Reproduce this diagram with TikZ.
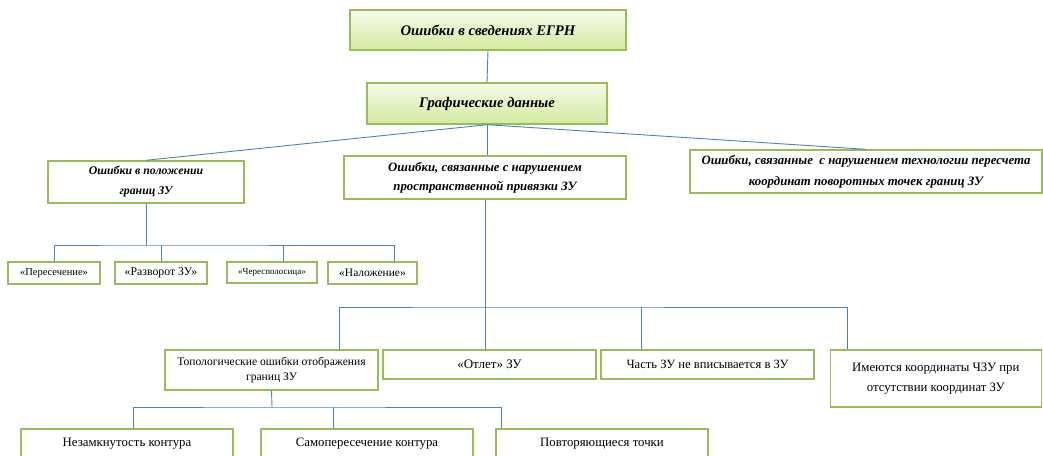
\documentclass[tikz,border=0pt]{standalone}
\usepackage{fontspec}
\setmainfont{Liberation Serif}
\usetikzlibrary{shadows}
\definecolor{boxgreen}{RGB}{155,187,89}
\definecolor{linkblue}{RGB}{79,129,189}
\definecolor{filltop}{RGB}{246,251,232}
\definecolor{fillbot}{RGB}{210,234,160}

\begin{document}
\begin{tikzpicture}[x=1pt,y=-1pt,
  box/.style={draw=boxgreen,line width=1.4pt,fill=white,inner sep=0pt,align=center},
  headbox/.style={box,top color=filltop,bottom color=fillbot,
    drop shadow={shadow xshift=1.2pt,shadow yshift=-1.2pt,opacity=0.25}},
  link/.style={draw=linkblue,line width=0.9pt}]
\clip(0,0) rectangle (1043,455);
% top levels
\node[headbox,minimum width=276pt,minimum height=40pt,font=\fontsize{14.7}{17}\selectfont\bfseries\itshape] (top) at (488,30) {Ошибки в сведениях ЕГРН};
\node[headbox,minimum width=240pt,minimum height=41pt,font=\fontsize{14.7}{17}\selectfont\bfseries\itshape] (graf) at (487,103.5) {Графические данные};
% second level
\node[box,minimum width=196pt,minimum height=42pt,font=\fontsize{11.8}{20}\selectfont\bfseries\itshape] (pol) at (146,182) {Ошибки в положении\\границ ЗУ};
\node[box,minimum width=282pt,minimum height=43pt,font=\fontsize{12.8}{19}\selectfont\bfseries\itshape] (prost) at (485,177.5) {Ошибки, связанные с нарушением\\пространственной привязки ЗУ};
\node[box,minimum width=352pt,minimum height=43pt,font=\fontsize{12.8}{21}\selectfont\bfseries\itshape] (tech) at (866,171.5) {Ошибки, связанные\ \ с нарушением технологии пересчета\\координат поворотных точек границ ЗУ};
% kinds of position errors
\node[box,minimum width=92pt,minimum height=22pt,font=\fontsize{10.5}{12}\selectfont] (per) at (54,273) {«Пересечение»};
\node[box,minimum width=92pt,minimum height=22pt,font=\fontsize{11.8}{13}\selectfont] (razv) at (161,273) {«Разворот ЗУ»};
\node[box,minimum width=90pt,minimum height=21pt,font=\fontsize{9}{10}\selectfont] (cher) at (272,272.5) {«Чересполосица»};
\node[box,minimum width=89pt,minimum height=22pt,font=\fontsize{11.5}{13}\selectfont] (nal) at (372.5,273) {«Наложение»};
% kinds of binding errors
\node[box,minimum width=213pt,minimum height=40pt,font=\fontsize{11.6}{15}\selectfont] (topo) at (271.5,370) {Топологические ошибки отображения\\границ ЗУ};
\node[box,minimum width=213pt,minimum height=29pt,font=\fontsize{13}{14}\selectfont] (otlet) at (489.5,364.5) {«Отлет» ЗУ};
\node[box,minimum width=213pt,minimum height=29pt,font=\fontsize{12.6}{14}\selectfont] (chast) at (707.5,364.5) {Часть ЗУ не вписывается в ЗУ};
\node[box,minimum width=211pt,minimum height=57pt,font=\fontsize{12.8}{20}\selectfont] (imeut) at (935.8,378.5) {Имеются координаты ЧЗУ при\\отсутствии координат ЗУ};
% topology errors
\node[box,minimum width=212pt,minimum height=29pt,font=\fontsize{12.8}{14}\selectfont] (nezam) at (127,443.5) {Незамкнутость контура};
\node[box,minimum width=212pt,minimum height=29pt,font=\fontsize{12.8}{14}\selectfont] (samo) at (367,443.5) {Самопересечение контура};
\node[box,minimum width=212pt,minimum height=29pt,font=\fontsize{12.8}{14}\selectfont] (povt) at (602,443.5) {Повторяющиеся точки};
% connectors
\coordinate (b1) at (146,245);
\coordinate (b2) at (485,307);
\coordinate (b3) at (272,407);
\draw[link] (top.south) -- (graf.north);
\draw[link] (graf.south) -- (pol.north);
\draw[link] (graf.south) -- (graf.south |- prost.north);
\draw[link] (graf.south) -- (tech.north);
\draw[link] (pol.south) -- (b1);
\draw[link] (per.north) |- (b1) -| ([xshift=22pt]nal.north);
\draw[link] (razv.north) -- (razv.north |- b1);
\draw[link] ([xshift=11pt]cher.north) -- ([xshift=11pt]cher.north |- b1);
\draw[link] (prost.south) -- (prost.south |- otlet.north);
\draw[link] ([xshift=67.5pt]topo.north) |- (b2) -| ([xshift=-88pt]imeut.north);
\draw[link] ([xshift=-66.5pt]chast.north) -- ([xshift=-66.5pt]chast.north |- b2);
\draw[link] (topo.south) -- (b3);
\draw[link] ([xshift=6pt]nezam.north) |- (b3) -| ([xshift=-101pt]povt.north);
\draw[link] ([xshift=-34pt]samo.north) -- ([xshift=-34pt]samo.north |- b3);
\end{tikzpicture}
\end{document}
